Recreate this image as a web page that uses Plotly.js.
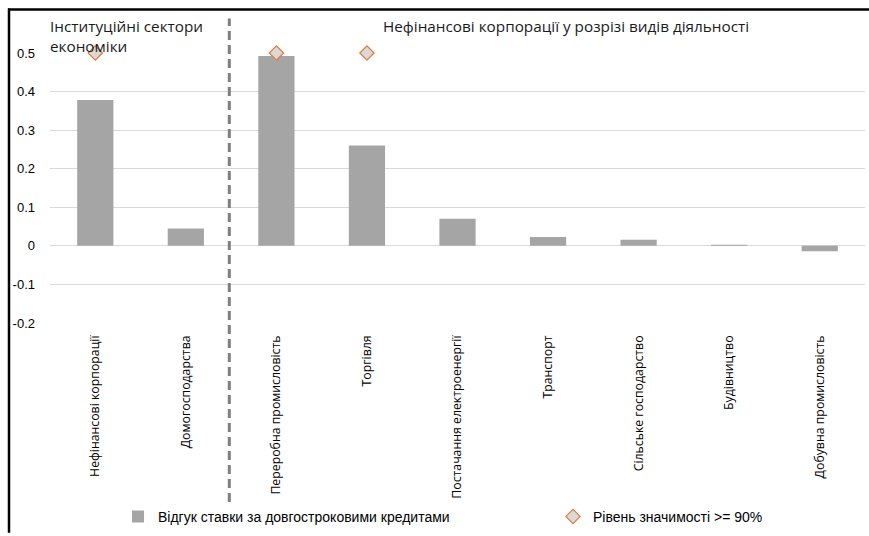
<!DOCTYPE html>
<html>
<head>
<meta charset="utf-8">
<script src="https://cdn.plot.ly/plotly-3.0.1.min.js"></script>
<style>
  html, body { margin: 0; padding: 0; background: #ffffff; }
  #chart { width: 869px; height: 536px; }
</style>
</head>
<body>
<div id="chart"></div>
<script>
// Sectors and industries
const categories = [
  'Нефінансові корпорації',
  'Домогосподарства',
  'Переробна промисловість',
  'Торгівля',
  'Постачання електроенергії',
  'Транспорт',
  'Сільське господарство',
  'Будівництво',
  'Добувна промисловість'
];

// Response of the long-term loan rate
const responseValues = [0.378, 0.045, 0.492, 0.26, 0.07, 0.023, 0.016, 0.003, -0.014];

// Significance markers (>= 90%)
const significantCategories = ['Нефінансові корпорації', 'Переробна промисловість', 'Торгівля'];
const significantValues = [0.5, 0.5, 0.5];

const yTickValues = [-0.2, -0.1, 0, 0.1, 0.2, 0.3, 0.4, 0.5];
const yTickLabels = ['-0.2', '-0.1', '0', '0.1', '0.2', '0.3', '0.4', '0.5'];

const seriesNames = ['Відгук ставки за довгостроковими кредитами', 'Рівень значимості >= 90%'];
const groupTitles = ['Інституційні сектори<br>економіки', 'Нефінансові корпорації у розрізі видів діяльності'];

const W = 869, H = 536;
const M = { l: 50, r: 4, t: 53, b: 210 };
const plotW = W - M.l - M.r;
const plotH = H - M.t - M.b;
// pixel -> paper helpers
const px = x => (x - M.l) / plotW;
const py = y => (H - M.b - y) / plotH;

const FONT = 'Liberation Sans, Arial, sans-serif';
const WIDE_FONT = 'Open Sans, Liberation Sans, sans-serif';

const traces = [
  {
    type: 'bar',
    x: categories,
    y: responseValues,
    name: seriesNames[0],
    marker: { color: '#a5a5a5' },
    width: 0.4,
    legend: 'legend',
    hoverinfo: 'x+y'
  },
  {
    type: 'scatter',
    mode: 'markers',
    x: significantCategories,
    y: significantValues,
    name: seriesNames[1],
    marker: { symbol: 'diamond', size: 11, color: '#d9d9d9', line: { color: '#e07a3a', width: 1.2 } },
    legend: 'legend2',
    cliponaxis: false,
    hoverinfo: 'x+y'
  }
];

const layout = {
  width: W,
  height: H,
  margin: M,
  paper_bgcolor: '#ffffff',
  plot_bgcolor: '#ffffff',
  font: { family: FONT, size: 12, color: '#000000' },
  showlegend: true,
  xaxis: {
    type: 'category',
    categoryorder: 'array',
    categoryarray: categories,
    tickangle: -90,
    tickfont: { family: WIDE_FONT, size: 12.3, color: '#000000' },
    ticklabelstandoff: 9,
    showgrid: false,
    zeroline: false,
    showline: false,
    ticks: '',
    automargin: false,
    range: [-0.5, 8.5],
    fixedrange: true
  },
  yaxis: {
    range: [-0.2, 0.5],
    tickvals: yTickValues,
    ticktext: yTickLabels,
    tickfont: { family: FONT, size: 13, color: '#000000' },
    ticklabelstandoff: 14,
    showgrid: true,
    gridcolor: '#d9d9d9',
    gridwidth: 1,
    zeroline: true,
    zerolinecolor: '#d9d9d9',
    zerolinewidth: 1,
    showline: false,
    ticks: '',
    automargin: false,
    fixedrange: true
  },
  legend: {
    orientation: 'h',
    x: px(118),
    xanchor: 'left',
    y: py(522),
    yanchor: 'middle',
    font: { family: FONT, size: 14, color: '#000000' },
    bgcolor: 'rgba(0,0,0,0)',
    itemwidth: 30
  },
  legend2: {
    orientation: 'h',
    x: px(553),
    xanchor: 'left',
    y: py(522),
    yanchor: 'middle',
    font: { family: FONT, size: 14, color: '#000000' },
    bgcolor: 'rgba(0,0,0,0)',
    itemwidth: 30
  },
  shapes: [
    // group divider
    {
      type: 'line', xref: 'x', yref: 'paper',
      x0: 1.48, x1: 1.48, y0: py(507), y1: py(18),
      line: { color: '#7f7f7f', width: 3, dash: '9px,5px' }
    },
    // frame: top and left edges
    {
      type: 'line', xref: 'paper', yref: 'paper',
      x0: px(8), x1: px(W + 2), y0: py(9), y1: py(9),
      line: { color: '#000000', width: 2.5 }
    },
    {
      type: 'line', xref: 'paper', yref: 'paper',
      x0: px(9), x1: px(9), y0: py(8), y1: py(H + 2),
      line: { color: '#000000', width: 2.5 }
    }
  ],
  annotations: [
    {
      text: groupTitles[0], xref: 'paper', yref: 'paper',
      x: px(48), y: py(14), xanchor: 'left', yanchor: 'top', align: 'left',
      showarrow: false, font: { family: WIDE_FONT, size: 15.3, color: '#1a1a1a' }
    },
    {
      text: groupTitles[1], xref: 'paper', yref: 'paper',
      x: px(566), y: py(14), xanchor: 'center', yanchor: 'top', align: 'center',
      showarrow: false, font: { family: WIDE_FONT, size: 15.3, color: '#1a1a1a' }
    }
  ]
};

Plotly.newPlot('chart', traces, layout, { displayModeBar: false, staticPlot: true });
</script>
</body>
</html>
